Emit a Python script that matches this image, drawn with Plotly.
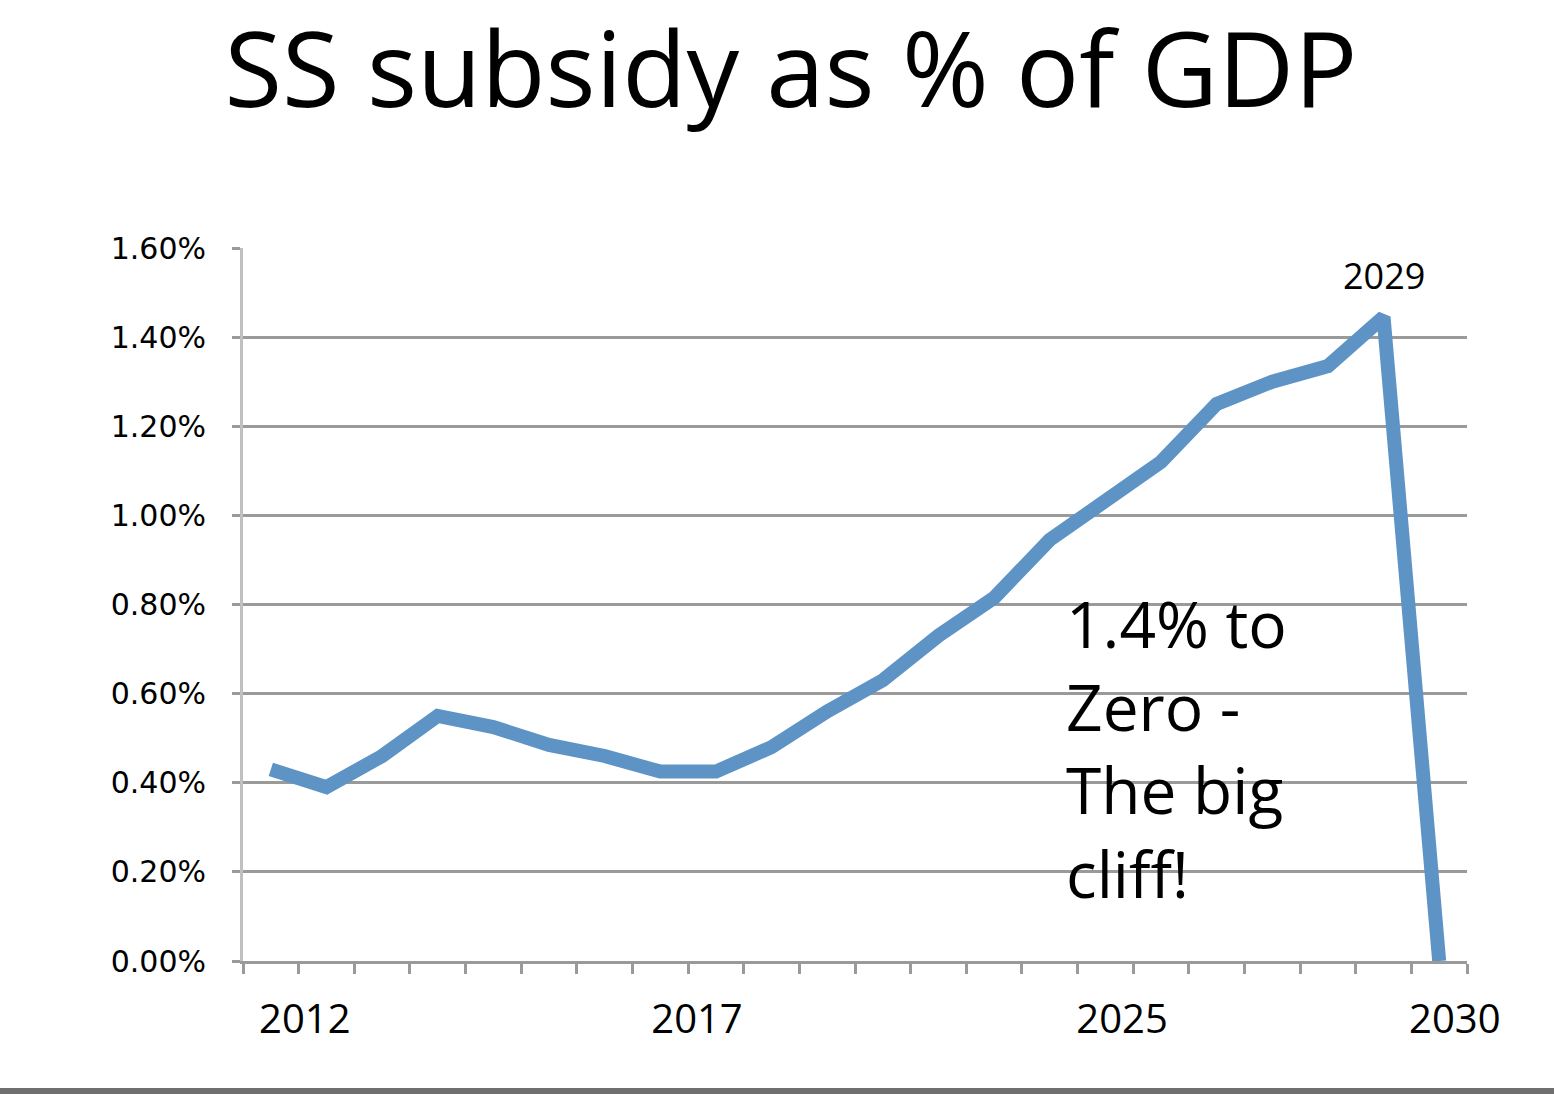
import plotly.graph_objects as go

# ---- data ----
categories = list(range(22))  # category slots along the x axis
subsidy_pct = [0.43, 0.39, 0.46, 0.55, 0.525, 0.485, 0.46, 0.425, 0.425, 0.48,
               0.56, 0.63, 0.73, 0.815, 0.945, 1.035, 1.12, 1.25, 1.30, 1.335,
               1.445, 0.0]
x_label_text = ["2012", "2017", "2025", "2030"]
x_label_pos = [0.61, 7.66, 15.3, 21.28]
y_ticks = [0, 0.2, 0.4, 0.6, 0.8, 1.0, 1.2, 1.4, 1.6]
y_tick_text = ["0.00%", "0.20%", "0.40%", "0.60%", "0.80%", "1.00%", "1.20%", "1.40%", "1.60%"]
boundaries = [i - 0.5 for i in range(23)]
peak_label = "2029"
callout = "1.4% to<br>Zero -<br>The big<br>cliff!"

W, H = 1554, 1094
L, R, T, B = 243, 87, 248, 133

fig = go.Figure()
fig.add_trace(go.Scatter(
    x=categories, y=subsidy_pct, mode="lines",
    line=dict(color="#5e93c6", width=14),
    hoverinfo="skip", showlegend=False,
))

fig.update_layout(
    width=W, height=H,
    margin=dict(l=L, r=R, t=T, b=B, pad=0),
    paper_bgcolor="white", plot_bgcolor="white",
    title=dict(text="SS subsidy as % of GDP", x=0.509, xanchor="center",
               y=1 - 70 / H, yanchor="middle",
               font=dict(family="Open Sans", size=105, color="black")),
    showlegend=False,
)

fig.update_xaxes(
    range=[-0.5, 21.5], showgrid=False, zeroline=False,
    showline=True, linecolor="#9a9a9a", linewidth=3,
    tickmode="array", tickvals=x_label_pos, ticktext=x_label_text,
    ticks="", ticklabelstandoff=21,
    tickfont=dict(family="Open Sans", size=40, color="black"),
    minor=dict(tickmode="array", tickvals=boundaries, ticks="outside",
               ticklen=10, tickwidth=3, tickcolor="#9a9a9a", showgrid=False),
)

fig.update_yaxes(
    range=[0, 1.6], tickmode="array", tickvals=y_ticks, ticktext=y_tick_text,
    showgrid=True, gridcolor="#9a9a9a", gridwidth=3, zeroline=False,
    showline=True, linecolor="#c0c0c0", linewidth=3,
    ticks="outside", ticklen=8, tickwidth=3, tickcolor="#9a9a9a",
    ticklabelstandoff=20,
    tickfont=dict(family="DejaVu Sans", size=30, color="black"),
)

fig.add_annotation(x=categories[20], y=subsidy_pct[20], text=peak_label,
                   showarrow=False, yshift=42,
                   font=dict(family="Open Sans", size=36, color="black"))
fig.add_annotation(x=14.25, y=0.86, xref="x", yref="y", text=callout,
                   showarrow=False, xanchor="left", yanchor="top", align="left",
                   font=dict(family="Open Sans", size=64, color="black"))

# grey rule at the very bottom of the slide
fig.add_shape(type="rect", xref="paper", yref="paper",
              x0=-L / (W - L - R), x1=1 + R / (W - L - R),
              y0=-(1088 - T - (H - T - B)) / (H - T - B),
              y1=-(1100 - T - (H - T - B)) / (H - T - B),
              fillcolor="#6f6f6f", line=dict(width=0), layer="above")

fig.write_html("out.html")
